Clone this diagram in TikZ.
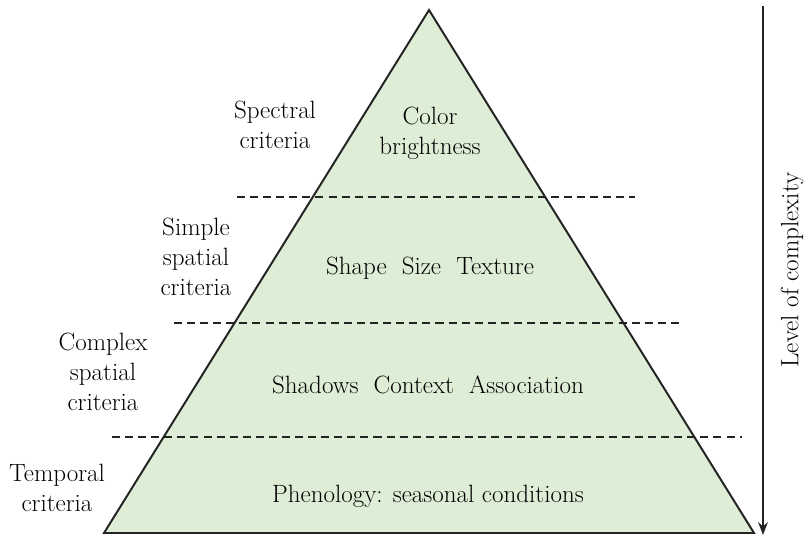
\documentclass[tikz,border=0pt]{standalone}
\usetikzlibrary{arrows.meta}
\definecolor{pyrgreen}{RGB}{222,237,214}
\definecolor{pyrline}{RGB}{35,35,35}
\begin{document}
\begin{tikzpicture}[>={Stealth[length=3.2mm,width=2.4mm]}]
\tikzstyle{every node}=[align=center,font=\fontsize{17.8}{21.3}\selectfont,inner sep=0pt]
\tikzstyle{sep}=[draw=pyrline,line width=1.1pt,dash pattern=on 5.7pt off 3.6pt]
\useasboundingbox (0,0) rectangle (20.15,-13.425);
\coordinate (apex) at (10.725,-0.25);
\coordinate (bl) at (2.6,-13.325);
\coordinate (br) at (18.85,-13.325);
\filldraw[fill=pyrgreen,draw=pyrline,line width=1.4pt,line join=miter] (apex) -- (bl) -- (br) -- cycle;
\coordinate (s1a) at (5.925,-4.925);
\coordinate (s1b) at (15.875,-4.925);
\coordinate (s2a) at (4.35,-8.075);
\coordinate (s2b) at (17,-8.075);
\coordinate (s3a) at (2.8,-10.925);
\coordinate (s3b) at (18.55,-10.925);
\draw[sep] (s1a) -- (s1b);
\draw[sep] (s2a) -- (s2b);
\draw[sep] (s3a) -- (s3b);
% criteria on the left
\node(spec) at (6.875,-3.125) {Spectral\\criteria};
\node(simp) at (4.9,-6.425) {Simple\\spatial\\criteria};
\node(comp) at (2.575,-9.3) {Complex\\spatial\\criteria};
\node(temp) at (1.425,-12.2) {Temporal\\criteria};
% inside the pyramid
\node(color) at (10.75,-3.325) {Color\\brightness};
\node(shape) at (10.75,-6.7) {Shape~~Size~~Texture};
\node(shad) at (10.7,-9.625) {Shadows~~Context~~Association};
\node(phen) at (10.7,-12.4) {Phenology: seasonal conditions};
% complexity arrow
\coordinate (ltop) at (19.075,-0.15);
\coordinate (lbot) at (19.075,-13.375);
\draw[->,draw=pyrline,line width=1.4pt] (ltop) -- (lbot);
\node[rotate=90](level) at (19.8,-6.75) {Level of complexity};
\end{tikzpicture}
\end{document}
